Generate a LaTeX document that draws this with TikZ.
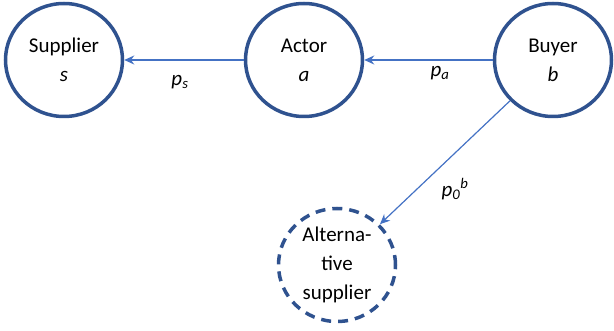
\documentclass[tikz,border=0pt]{standalone}
\usepackage{fontspec}
\setmainfont{Carlito}
\usetikzlibrary{shapes.geometric,arrows.meta}
\definecolor{ringblue}{HTML}{2F528F}
\definecolor{arrowblue}{HTML}{4472C4}
\tikzset{
  party/.style={ellipse, draw=ringblue, line width=3.5pt, minimum width=117pt, minimum height=113pt, inner sep=0pt, align=center, font=\fontsize{21}{29}\selectfont},
  altparty/.style={party, dash pattern=on 10pt off 7pt},
  flow/.style={draw=arrowblue, line width=1.2pt, -{Stealth[length=10pt,width=9pt]}},
  pricelabel/.style={font=\fontsize{21}{25}\selectfont\itshape, inner sep=0pt}
}
\begin{document}
\begin{tikzpicture}[x=1pt,y=-1pt]
\useasboundingbox (0,0) rectangle (614,331);
\node[party] (sup) at (64,60) {Supplier\\\textit{s}};
\node[party] (act) at (304,60) {Actor\\\textit{a}};
\node[party] (buy) at (553,60) {Buyer\\\textit{b}};
\node[altparty] (alt) at (337,265) {Alterna-\\tive\\supplier};
\draw[flow] (act) -- (sup);
\draw[flow] (buy) -- (act);
\draw[flow] (buy) -- (alt);
\node[pricelabel] (ps) at (180,82) {p\textsubscript{s}};
\node[pricelabel] (pa) at (440,73) {p\textsubscript{a}};
\node[pricelabel] (pb) at (455,189) {p\textsubscript{0}\textsuperscript{b}};
\end{tikzpicture}
\end{document}
